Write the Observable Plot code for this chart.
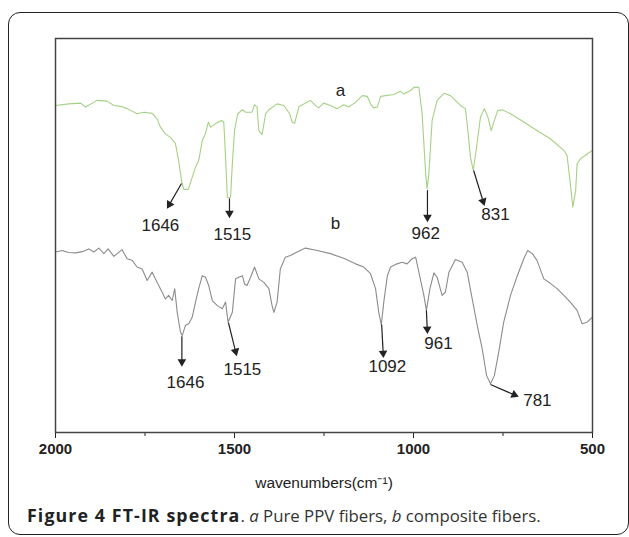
<!DOCTYPE html>
<html>
<head>
<meta charset="utf-8">
<script src="https://cdn.jsdelivr.net/npm/d3@7"></script>
<script src="https://cdn.jsdelivr.net/npm/@observablehq/plot@0.6"></script>
<style>
  body { margin: 0; background: #fff; }
  #box { position: absolute; left: 8px; top: 12px; width: 621px; height: 523px; border: 1.5px solid #222; border-radius: 12px; box-sizing: border-box; }
  #chart { position: absolute; left: 0; top: 0; }
  #caption { position: absolute; left: 27px; top: 503px; font-family: "Open Sans", sans-serif; font-size: 16.8px; color: #333; white-space: nowrap; }
  #caption b { color: #222; font-weight: 700; font-size: 17.8px; letter-spacing: 1.1px; }
  g[aria-label="x-axis tick label"] text, g[aria-label="x-axis"] g.tick text { font-weight: bold; font-size: 15px; }
</style>
</head>
<body>
<div id="box"></div>
<div id="chart"></div>
<div id="caption"><b>Figure 4 FT-IR spectra</b>. <i>a</i> Pure PPV fibers, <i>b</i> composite fibers.</div>
<script>
// Spectrum a (pure PPV fibers): wavenumber (cm-1) and transmittance (a.u.)
const wnA = [2000,1963,1930,1916,1884,1856,1837,1814,1800,1772,1753,1730,1716,1707,1693,1679,1665,1656,1648,1642,1629,1618,1609,1600,1590,1581,1573,1567,1553,1536,1530,1525,1520,1515,1511,1506,1500,1491,1478,1469,1451,1444,1437,1432,1423,1413,1404,1381,1362,1346,1339,1332,1325,1320,1288,1274,1265,1251,1232,1213,1195,1181,1162,1143,1129,1120,1111,1101,1092,1055,1036,1027,1008,999,985,976,966,962,957,948,934,915,897,869,855,848,841,833,824,813,802,792,783,774,765,752,729,692,654,617,580,571,563,555,547,543,533,515,500];
const tA = [83.0,83.4,83.6,82.6,84.3,84.1,83.0,82.7,82.2,80.9,81.3,81.0,79.6,77.5,75.8,74.9,73.3,69.0,64.0,61.7,61.7,64.8,67.3,69.0,74.1,75.9,78.8,77.5,78.4,79.2,78.8,69.9,59.7,59.6,59.7,68.2,76.6,80.9,81.9,81.3,81.3,83.2,82.6,76.6,75.6,80.9,81.9,83.4,83.0,80.9,78.8,78.5,80.9,82.7,84.3,83.0,82.4,83.6,83.0,82.2,83.2,82.6,83.8,85.5,85.3,83.4,82.4,82.6,85.3,85.8,86.6,85.9,86.8,87.6,87.6,80.9,65.7,61.9,65.7,79.2,84.3,86.1,85.5,83.0,82.2,76.6,69.9,66.5,72.4,80.0,82.2,80.0,76.6,79.2,81.7,81.9,80.9,78.8,76.6,74.5,71.6,70.3,64.0,57.2,61.4,68.2,69.5,70.7,71.6];

// Spectrum b (composite fibers)
const wnB = [2000,1981,1964,1944,1925,1907,1893,1879,1865,1853,1837,1814,1800,1786,1772,1758,1744,1730,1716,1702,1693,1684,1674,1667,1660,1651,1646,1637,1628,1618,1609,1600,1590,1581,1572,1562,1548,1534,1525,1518,1506,1497,1488,1478,1472,1465,1455,1444,1432,1418,1404,1395,1390,1381,1372,1358,1344,1325,1302,1269,1232,1195,1162,1139,1120,1106,1097,1090,1083,1073,1064,1046,1032,1018,1004,994,985,971,964,954,943,934,920,911,901,883,864,850,836,822,808,796,785,774,762,748,729,710,692,681,668,655,636,617,599,580,562,543,529,515,500];
const tB = [45.8,46.2,45.7,45.6,45.9,46.6,45.8,46.8,45.4,46.6,44.7,46.4,44.1,43.7,42.0,41.5,38.6,40.7,38.1,35.6,33.9,34.8,33.5,36.5,30.5,25.5,24.6,27.2,27.6,29.3,33.1,36.5,39.8,39.4,37.3,33.5,32.2,31.4,33.1,28.0,30.5,39.0,39.4,39.8,37.7,37.3,39.4,42.0,39.0,38.1,36.5,32.2,30.5,33.1,41.5,44.5,44.9,45.8,46.8,46.2,45.4,44.2,42.8,42.0,40.3,36.5,30.5,27.3,33.1,39.8,42.0,42.8,43.2,42.8,44.1,44.5,40.7,34.8,31.0,36.5,40.5,39.4,34.8,35.6,40.7,43.9,43.2,40.7,33.9,27.2,21.2,14.5,12.4,14.5,20.4,28.0,34.8,39.8,44.1,46.2,45.4,43.7,39.0,37.8,36.5,34.8,33.1,31.0,27.6,28.0,29.3];

// Axis ticks and title
const majorTicks = [2000, 1500, 1000, 500];
const minorTicks = [1750, 1250, 750];
const xTitle = "wavenumbers(cm⁻¹)";

// Series letters
const seriesNames = ["a", "b"];
const letterX = [1204, 1218];
const letterY = [86.8, 53.0];

// Peak annotations (wavenumber / a.u.)
const peakLabels = ["1646","1515","962","831","1646","1515","1092","961","781"];
const arrowFromX = [1648,1514,961,832,1647,1517,1089,964,785];
const arrowFromY = [63.2,59.4,61.5,66.5,24.4,27.9,27.4,31.0,12.2];
const arrowToX   = [1688,1514,961,802,1647,1494,1084,961,707];
const arrowToY   = [56.9,54.5,53.5,57.6,16.8,19.5,19.0,25.1,9.1];
const labelX     = [1707,1506,966,771,1637,1478,1073,930,654];
const labelY     = [52.6,50.3,50.6,55.4,12.7,16.0,16.8,22.6,8.1];

const W = 629, H = 500, mL = 55, mR = 37, mT = 38, mB = 68;
const xDomain = [2000, 500], yDomain = [0, 100];

const spectra = [
  ...wnA.map((w, i) => ({series: "a", w, t: tA[i]})),
  ...wnB.map((w, i) => ({series: "b", w, t: tB[i]}))
];
const letters = seriesNames.map((s, i) => ({s, x: letterX[i], y: letterY[i]}));

const xs = d3.scaleLinear(xDomain, [mL, W - mR]);
const ys = d3.scaleLinear(yDomain, [H - mB, mT]);
const headOffset = 4.5;
const anns = peakLabels.map((label, i) => {
  const px1 = xs(arrowFromX[i]), py1 = ys(arrowFromY[i]);
  const px2 = xs(arrowToX[i]), py2 = ys(arrowToY[i]);
  const dx = px2 - px1, dy = py2 - py1, len = Math.hypot(dx, dy);
  const ux = dx / len, uy = dy / len;
  return {
    label,
    x1: arrowFromX[i], y1: arrowFromY[i],
    hx: xs.invert(px2 - ux * headOffset), hy: ys.invert(py2 - uy * headOffset),
    rot: Math.atan2(dx, -dy) * 180 / Math.PI,
    lx: labelX[i], ly: labelY[i]
  };
});

const chart = Plot.plot({
  width: W, height: H,
  marginLeft: mL, marginRight: mR, marginTop: mT, marginBottom: mB,
  style: {fontFamily: "'Liberation Sans', Arial, sans-serif", fontSize: "15px", color: "#222", background: "transparent", overflow: "visible"},
  x: {domain: xDomain, ticks: majorTicks, tickSize: 6, tickPadding: 5, tickFormat: d => String(d), label: null},
  y: {domain: yDomain, axis: null},
  color: {domain: ["a", "b"], range: ["#a5d184", "#8c8c8c"]},
  marks: [
    Plot.ruleX(minorTicks, {y1: 0, y2: 0, insetBottom: -4, stroke: "#222"}),
    Plot.line(spectra, {x: "w", y: "t", z: "series", stroke: "series", strokeWidth: 1.1}),
    Plot.link(anns, {x1: "x1", y1: "y1", x2: "hx", y2: "hy", stroke: "#222", strokeWidth: 1.2}),
    Plot.dot(anns, {x: "hx", y: "hy", symbol: "triangle", r: 3.2, fill: "#222", stroke: "none", rotate: "rot"}),
    Plot.text(anns, {x: "lx", y: "ly", text: "label", fontSize: 17, fill: "#222"}),
    Plot.text(letters, {x: "x", y: "y", text: "s", fontSize: 17, fill: "#222"}),
    Plot.text([xTitle], {frameAnchor: "bottom", dy: 55, text: d => d, fontSize: 15.5, fill: "#222"}),
    Plot.frame({stroke: "#444", strokeWidth: 1.5})
  ]
});
document.getElementById("chart").appendChild(chart);
</script>
</body>
</html>
